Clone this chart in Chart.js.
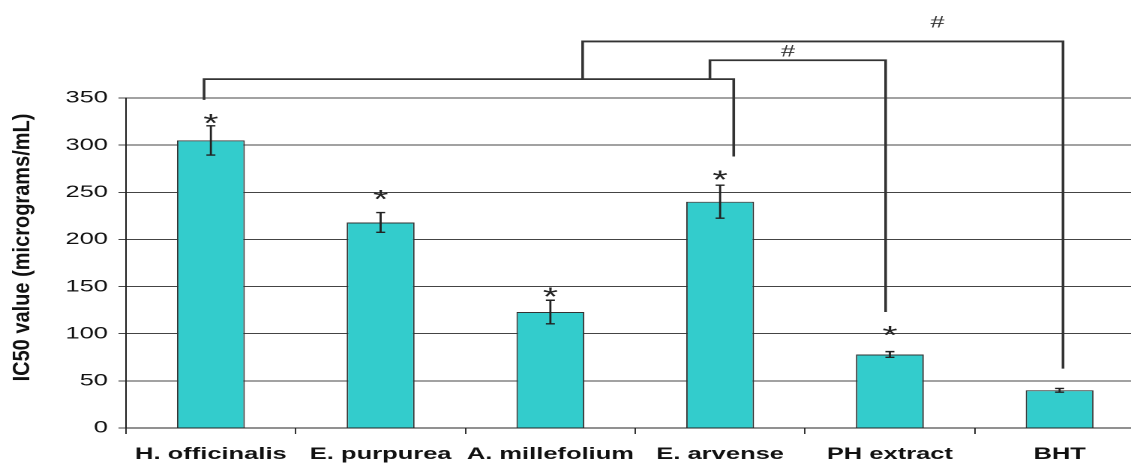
<!DOCTYPE html>
<html>
<head>
<meta charset="utf-8">
<script src="https://cdn.jsdelivr.net/npm/chart.js@4.4.1/dist/chart.umd.min.js"></script>
<style>
  html, body { margin: 0; padding: 0; background: #fff; overflow: hidden; width: 1131px; height: 463px; }
  /* the reference figure is stretched sideways, so the chart is drawn narrow and widened */
  #wrap { position: relative; width: 767px; height: 463px; transform: scaleX(1.5); transform-origin: 0 0; }
</style>
</head>
<body>
<div id="wrap"><canvas id="chart"></canvas></div>
<script>
const categories = ['H. officinalis', 'E. purpurea', 'A. millefolium', 'E. arvense', 'PH extract', 'BHT'];
const ic50 = [305, 218, 123, 240, 78, 40];
const ic50Err = [15.5, 10.5, 12.5, 17.5, 3, 2];
// asterisk heights (value units), null = no mark
const starValues = [330, 249, 146, 270, 105, null];
// significance brackets as [category index, value] points
const brackets = [
  [[-0.04, 348], [-0.04, 370], [3.08, 370], [3.08, 288]],
  [[2.19, 370], [2.19, 410], [5.02, 410], [5.02, 63]],
  [[2.94, 370], [2.94, 390], [3.975, 390], [3.975, 123]]
];
const hashMarks = [[4.28, 430], [3.40, 399]];
const yTitle = 'IC50 value (micrograms/mL)';

const extras = {
  id: 'extras',
  afterDraw(chart) {
    const ctx = chart.ctx;
    const x = chart.scales.x;
    const y = chart.scales.y;
    ctx.save();

    // error bars
    ctx.strokeStyle = '#222';
    ctx.lineWidth = 1.4;
    ic50.forEach((v, i) => {
      const cx = x.getPixelForValue(i);
      const top = y.getPixelForValue(v + ic50Err[i]);
      const bot = y.getPixelForValue(v - ic50Err[i]);
      ctx.beginPath();
      ctx.moveTo(cx, top); ctx.lineTo(cx, bot);
      ctx.moveTo(cx - 3, top); ctx.lineTo(cx + 3, top);
      ctx.moveTo(cx - 3, bot); ctx.lineTo(cx + 3, bot);
      ctx.stroke();
    });

    // asterisks
    ctx.fillStyle = '#222';
    ctx.font = '26px "Liberation Sans", Arial, sans-serif';
    ctx.textAlign = 'center';
    ctx.textBaseline = 'alphabetic';
    starValues.forEach((v, i) => {
      if (v === null) return;
      ctx.fillText('*', x.getPixelForValue(i), y.getPixelForValue(v) + 0.575 * 26);
    });

    // brackets
    ctx.strokeStyle = '#333';
    ctx.lineWidth = 1.8;
    brackets.forEach(path => {
      ctx.beginPath();
      path.forEach(([c, v], k) => {
        const px = x.getPixelForValue(c);
        const py = y.getPixelForValue(v);
        if (k === 0) ctx.moveTo(px, py); else ctx.lineTo(px, py);
      });
      ctx.stroke();
    });

    ctx.fillStyle = '#333';
    ctx.font = '17px "Liberation Sans", Arial, sans-serif';
    ctx.textBaseline = 'middle';
    hashMarks.forEach(([c, v]) => {
      ctx.fillText('#', x.getPixelForValue(c), y.getPixelForValue(v));
    });

    // y axis title, squeezed back a little against the sideways stretch
    ctx.fillStyle = '#111';
    ctx.font = 'bold 20px "Liberation Sans", Arial, sans-serif';
    ctx.translate(15.3, 247.5);
    ctx.rotate(-Math.PI / 2);
    ctx.scale(1, 0.8);
    ctx.fillText(yTitle, 0, 0);
    ctx.restore();
  }
};

new Chart(document.getElementById('chart'), {
  type: 'bar',
  data: {
    labels: categories,
    datasets: [{
      data: ic50,
      backgroundColor: '#33CCCC',
      borderColor: '#333',
      borderWidth: 1,
      barPercentage: 0.4,
      categoryPercentage: 1
    }]
  },
  options: {
    responsive: true,
    maintainAspectRatio: false,
    animation: false,
    devicePixelRatio: 2,
    layout: { padding: { top: 98, right: 4, left: 0, bottom: 0 } },
    plugins: { legend: { display: false }, tooltip: { enabled: false } },
    scales: {
      x: {
        afterFit(scale) { scale.height = 35; },
        grid: { drawOnChartArea: false, drawTicks: true, tickLength: 6, color: '#333', offset: true },
        border: { color: '#222', width: 1 },
        ticks: {
          autoSkip: false,
          color: '#111',
          padding: 10,
          maxRotation: 0,
          font: { family: '"Liberation Sans", Arial, sans-serif', size: 17, weight: 'bold' }
        }
      },
      y: {
        min: 0,
        max: 350,
        afterFit(scale) { scale.width = 84; },
        grid: { color: '#444', lineWidth: 1, tickLength: 5 },
        border: { color: '#222', width: 1 },
        ticks: {
          stepSize: 50,
          color: '#111',
          padding: 7,
          font: { family: '"Liberation Sans", Arial, sans-serif', size: 17 }
        }
      }
    }
  },
  plugins: [extras]
});
</script>
</body>
</html>
